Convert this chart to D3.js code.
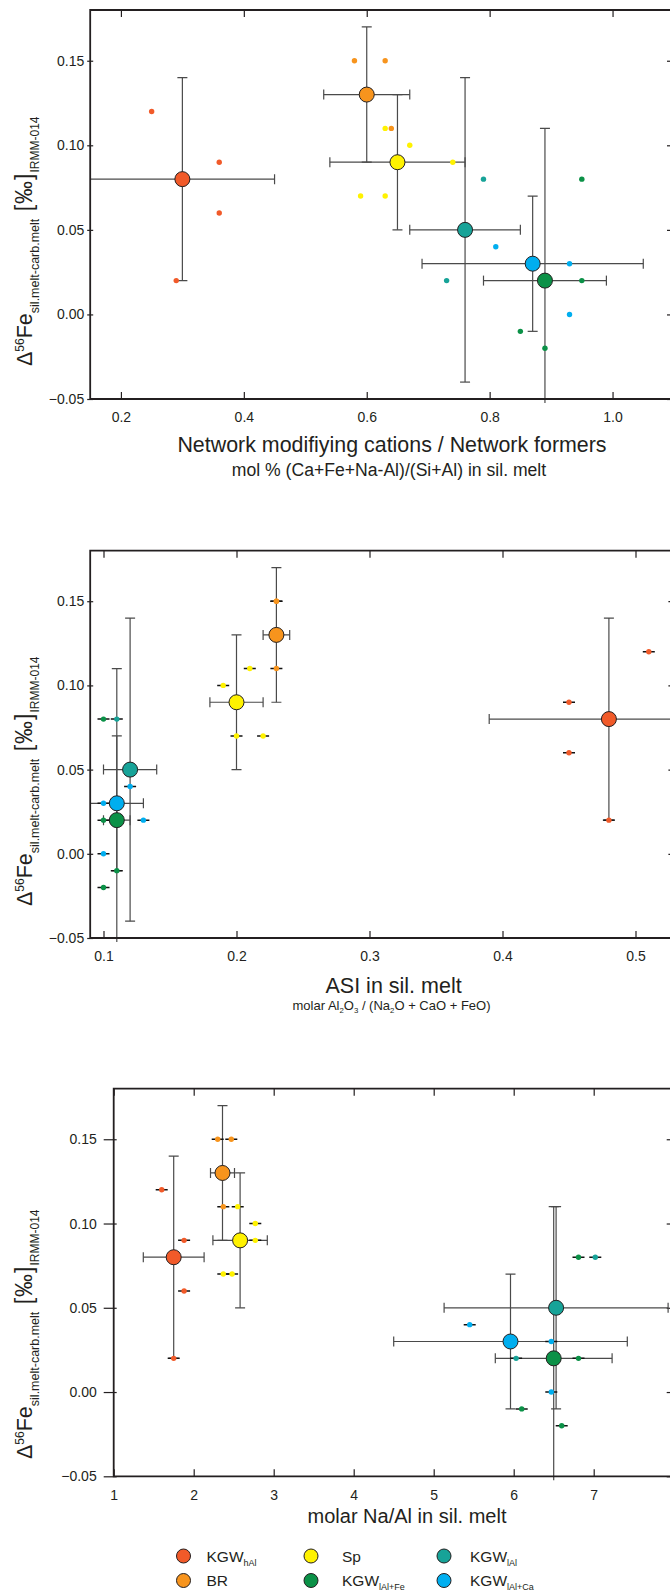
<!DOCTYPE html>
<html>
<head>
<meta charset="utf-8">
<script src="https://cdn.jsdelivr.net/npm/d3@7"></script>
<style>
  body { margin: 0; background: #fff; }
  svg { display: block; }
  text { font-family: "Liberation Sans", Arial, Helvetica, sans-serif; fill: #231f20; }
</style>
</head>
<body>
<svg id="chart" width="670" height="1594"></svg>
<script>
// ---- series definitions ----
const groupBase = ["KGW", "BR", "Sp", "KGW", "KGW", "KGW"];
const groupSub  = ["hAl", "", "", "lAl", "lAl+Fe", "lAl+Ca"];
const colors    = ["#f15a29", "#f7941d", "#fff200", "#17a398", "#0b9147", "#00aeef"];
// legend layout order (column-wise)
const legendOrder = [0, 1, 2, 4, 3, 5];

// mean Δ56Fe of each series
const meanY = [0.08, 0.13, 0.09, 0.05, 0.02, 0.03];

// panel A: network modifying cations / network formers
const nmX    = [0.30, 0.60, 0.65, 0.76, 0.89, 0.87];
const nmXErr = [0.15, 0.07, 0.11, 0.09, 0.10, 0.18];
const nmYErr = [0.06, 0.04, 0.04, 0.09, 0.09, 0.04];
const nmPoints = [ // [series, x, y]
  [0, 0.25, 0.12], [0, 0.36, 0.09], [0, 0.36, 0.06], [0, 0.29, 0.02],
  [1, 0.58, 0.15], [1, 0.63, 0.15], [1, 0.64, 0.11],
  [2, 0.63, 0.11], [2, 0.67, 0.10], [2, 0.74, 0.09], [2, 0.59, 0.07], [2, 0.63, 0.07],
  [3, 0.79, 0.08], [3, 0.73, 0.02],
  [4, 0.95, 0.08], [4, 0.95, 0.02], [4, 0.85, -0.01], [4, 0.89, -0.02],
  [5, 0.81, 0.04], [5, 0.93, 0.03], [5, 0.93, 0.00]
];
const nmTicks = [0.2, 0.4, 0.6, 0.8, 1.0];

// panel B: ASI
const asiX    = [0.48, 0.23, 0.20, 0.12, 0.11, 0.11];
const asiXErr = [0.09, 0.01, 0.02, 0.02, 0.01, 0.02];
const asiYErr = [0.06, 0.04, 0.04, 0.09, 0.09, 0.04];
const asiPoints = [
  [0, 0.51, 0.12], [0, 0.45, 0.09], [0, 0.45, 0.06], [0, 0.48, 0.02],
  [1, 0.23, 0.15], [1, 0.23, 0.15], [1, 0.23, 0.11],
  [2, 0.21, 0.11], [2, 0.19, 0.10], [2, 0.20, 0.09], [2, 0.20, 0.07], [2, 0.22, 0.07],
  [3, 0.11, 0.08], [3, 0.11, 0.02],
  [4, 0.10, 0.08], [4, 0.10, 0.02], [4, 0.11, -0.01], [4, 0.10, -0.02],
  [5, 0.12, 0.04], [5, 0.10, 0.03], [5, 0.13, 0.02], [5, 0.10, 0.00]
];
const asiTicks = [0.1, 0.2, 0.3, 0.4, 0.5];

// panel C: molar Na/Al
const naX    = [1.75, 2.36, 2.58, 6.53, 6.50, 5.96];
const naXErr = [0.38, 0.15, 0.34, 1.40, 0.73, 1.46];
const naYErr = [0.06, 0.04, 0.04, 0.06, 0.09, 0.04];
const naPoints = [
  [0, 1.60, 0.12], [0, 1.88, 0.09], [0, 1.88, 0.06], [0, 1.75, 0.02],
  [1, 2.30, 0.15], [1, 2.47, 0.15], [1, 2.37, 0.11],
  [2, 2.55, 0.11], [2, 2.77, 0.10], [2, 2.77, 0.09], [2, 2.37, 0.07], [2, 2.48, 0.07],
  [3, 7.02, 0.08], [3, 6.03, 0.02],
  [4, 6.81, 0.08], [4, 6.81, 0.02], [4, 6.10, -0.01], [4, 6.60, -0.02],
  [5, 5.45, 0.04], [5, 6.47, 0.03], [5, 6.47, 0.00]
];
const naTicks = [1, 2, 3, 4, 5, 6, 7];

const yTicks = [-0.05, 0.00, 0.05, 0.10, 0.15];
const yDomain = [-0.05, 0.18];

// ---- layout of the three panels ----
const panels = [
  { id: "nm", x: nmX, xErr: nmXErr, yErr: nmYErr, pts: nmPoints, ticks: nmTicks, fmt: d3.format(".1f"),
    xDomain: [0.15, 1.1], left: 90.2, right: 674, top: 10, bottom: 399,
    yTickOut: 3, yLabelGap: 5, dashes: false, yLabelStart: 366,
    title: "Network modifiying cations / Network formers", titleX: 392, titleY: 452, titleSize: 21.4,
    sub: [["mol % (Ca+Fe+Na-Al)/(Si+Al) in sil. melt", 0]], subX: 389, subY: 476, subSize: 17.6 },
  { id: "asi", x: asiX, xErr: asiXErr, yErr: asiYErr, pts: asiPoints, ticks: asiTicks, fmt: d3.format(".1f"),
    xDomain: [0.09, 0.53], left: 90.2, right: 675.4, top: 550.7, bottom: 938,
    yTickOut: 3, yLabelGap: 5, dashes: true, yLabelStart: 906,
    title: "ASI in sil. melt", titleX: 393.6, titleY: 993, titleSize: 21.5,
    sub: [["molar Al", 0], ["2", 1], ["O", 0], ["3", 1], [" / (Na", 0], ["2", 1], ["O + CaO + FeO)", 0]],
    subX: 391.5, subY: 1010, subSize: 13 },
  { id: "na", x: naX, xErr: naXErr, yErr: naYErr, pts: naPoints, ticks: naTicks, fmt: d3.format("d"),
    xDomain: [1, 8], left: 113.7, right: 673.7, top: 1088.7, bottom: 1476.3,
    yTickOut: 10, yLabelGap: 16, dashes: true, yLabelStart: 1459,
    title: "molar Na/Al in sil. melt", titleX: 407, titleY: 1523, titleSize: 20,
    sub: null }
];

const svg = d3.select("#chart");
const ink = "#231f20";
const barColor = "#4a4a4a";
const capHalf = 5;

panels.forEach((p) => {
  const x = d3.scaleLinear().domain(p.xDomain).range([p.left, p.right]);
  const y = d3.scaleLinear().domain(yDomain).range([p.bottom, p.top]);
  const g = svg.append("g").attr("class", "panel-" + p.id);

  // clip region: the frame, slightly extended below
  const clipId = "clip-" + p.id;
  svg.append("clipPath").attr("id", clipId).append("rect")
    .attr("x", p.left).attr("y", p.top)
    .attr("width", p.right - p.left).attr("height", p.bottom - p.top + 4);

  // left axis with labels
  const yAxis = d3.axisLeft(y).tickValues(yTicks).tickFormat(d3.format(".2f"))
    .tickSizeInner(p.yTickOut).tickSizeOuter(0).tickPadding(p.yLabelGap - p.yTickOut + 1);
  const ya = g.append("g").attr("transform", `translate(${p.left},0)`).call(yAxis);
  ya.select(".domain").remove();
  ya.selectAll(".tick line").attr("stroke", ink).attr("stroke-width", 1.2).attr("x2", -p.yTickOut).attr("x1", 3);
  ya.selectAll(".tick text").attr("font-size", 14).attr("fill", ink)
    .attr("font-family", "'Liberation Sans', Arial, sans-serif");

  // right axis, inward ticks
  const yr = g.append("g").attr("transform", `translate(${p.right},0)`)
    .call(d3.axisRight(y).tickValues(yTicks).tickSize(-7).tickFormat(""));
  yr.select(".domain").remove();
  yr.selectAll(".tick line").attr("stroke", ink).attr("stroke-width", 1.2);

  // bottom axis with labels, inward ticks
  const xb = g.append("g").attr("transform", `translate(0,${p.bottom})`)
    .call(d3.axisBottom(x).tickValues(p.ticks).tickFormat(p.fmt).tickSizeInner(-7).tickSizeOuter(0).tickPadding(10));
  xb.select(".domain").remove();
  xb.selectAll(".tick line").attr("stroke", ink).attr("stroke-width", 1.2);
  xb.selectAll(".tick text").attr("font-size", 14).attr("fill", ink)
    .attr("font-family", "'Liberation Sans', Arial, sans-serif").attr("dy", "0.95em");

  // top axis, inward ticks
  const xt = g.append("g").attr("transform", `translate(0,${p.top})`)
    .call(d3.axisTop(x).tickValues(p.ticks).tickSize(-7).tickFormat(""));
  xt.select(".domain").remove();
  xt.selectAll(".tick line").attr("stroke", ink).attr("stroke-width", 1.2);

  // plotted content
  const plot = g.append("g").attr("clip-path", `url(#${clipId})`);
  const idx = d3.range(meanY.length);

  // error bars of the series means
  const bars = plot.append("g").attr("stroke", barColor).attr("stroke-width", 1.2).attr("fill", "none");
  idx.forEach(i => {
    const cx = x(p.x[i]), cy = y(meanY[i]);
    const x0 = x(p.x[i] - p.xErr[i]), x1 = x(p.x[i] + p.xErr[i]);
    const y0 = y(meanY[i] - p.yErr[i]), y1 = y(meanY[i] + p.yErr[i]);
    bars.append("line").attr("x1", x0).attr("x2", x1).attr("y1", cy).attr("y2", cy);
    bars.append("line").attr("x1", x0).attr("x2", x0).attr("y1", cy - capHalf).attr("y2", cy + capHalf);
    bars.append("line").attr("x1", x1).attr("x2", x1).attr("y1", cy - capHalf).attr("y2", cy + capHalf);
    bars.append("line").attr("x1", cx).attr("x2", cx).attr("y1", y0).attr("y2", y1);
    bars.append("line").attr("x1", cx - capHalf).attr("x2", cx + capHalf).attr("y1", y0).attr("y2", y0);
    bars.append("line").attr("x1", cx - capHalf).attr("x2", cx + capHalf).attr("y1", y1).attr("y2", y1);
  });

  // individual measurements
  if (p.dashes) {
    plot.append("g").selectAll("line").data(p.pts).join("line")
      .attr("x1", d => x(d[1]) - 6).attr("x2", d => x(d[1]) + 6)
      .attr("y1", d => y(d[2])).attr("y2", d => y(d[2]))
      .attr("stroke", "#111").attr("stroke-width", 1.5);
  }
  plot.append("g").selectAll("circle").data(p.pts).join("circle")
    .attr("cx", d => x(d[1])).attr("cy", d => y(d[2])).attr("r", 2.7)
    .attr("fill", d => colors[d[0]]);

  // series means
  plot.append("g").selectAll("circle").data(idx).join("circle")
    .attr("cx", i => x(p.x[i])).attr("cy", i => y(meanY[i])).attr("r", 7.5)
    .attr("fill", i => colors[i]).attr("stroke", ink).attr("stroke-width", 1);

  // frame
  g.append("path")
    .attr("d", `M${p.right},${p.top}H${p.left}V${p.bottom}H${p.right}`)
    .attr("fill", "none").attr("stroke", ink).attr("stroke-width", 1.8);

  // y-axis title
  const yl = g.append("text")
    .attr("transform", `translate(32,${p.yLabelStart}) rotate(-90)`)
    .attr("text-anchor", "start");
  yl.append("tspan").attr("font-size", 21.5).text("Δ");
  yl.append("tspan").attr("font-size", 12).attr("dy", -8).text("56");
  yl.append("tspan").attr("font-size", 21.5).attr("dy", 8).text("Fe");
  yl.append("tspan").attr("font-size", 12.5).attr("dy", 7).text("sil.melt-carb.melt");
  yl.append("tspan").attr("font-size", 23).attr("dy", -7).attr("letter-spacing", 1).text(" [‰]");
  yl.append("tspan").attr("font-size", 12).attr("dy", 7).attr("letter-spacing", 0).text("IRMM-014");

  // x-axis title and subtitle
  g.append("text").attr("x", p.titleX).attr("y", p.titleY).attr("text-anchor", "middle")
    .attr("font-size", p.titleSize).text(p.title);
  if (p.sub) {
    const st = g.append("text").attr("x", p.subX).attr("y", p.subY).attr("text-anchor", "middle")
      .attr("font-size", p.subSize);
    let shifted = 0;
    p.sub.forEach(([t, isSub]) => {
      const ts = st.append("tspan").text(t);
      if (isSub) { ts.attr("font-size", p.subSize * 0.6).attr("dy", 3 - shifted); shifted = 3; }
      else { ts.attr("dy", -shifted); shifted = 0; }
    });
  }
});

// ---- legend ----
const colX = [183.5, 311, 444];
const colTextX = [206.5, 342, 470];
const rowY = [1556, 1580.5];
const legend = svg.append("g").attr("class", "legend");
legendOrder.forEach((gi, k) => {
  const c = Math.floor(k / 2), r = k % 2;
  legend.append("circle").attr("cx", colX[c]).attr("cy", rowY[r]).attr("r", 7)
    .attr("fill", colors[gi]).attr("stroke", ink).attr("stroke-width", 1);
  const t = legend.append("text").attr("x", colTextX[c]).attr("y", rowY[r] + 5.5).attr("font-size", 15.5);
  t.append("tspan").text(groupBase[gi]);
  if (groupSub[gi]) t.append("tspan").attr("font-size", 9).attr("dy", 4).text(groupSub[gi]);
});
</script>
</body>
</html>
